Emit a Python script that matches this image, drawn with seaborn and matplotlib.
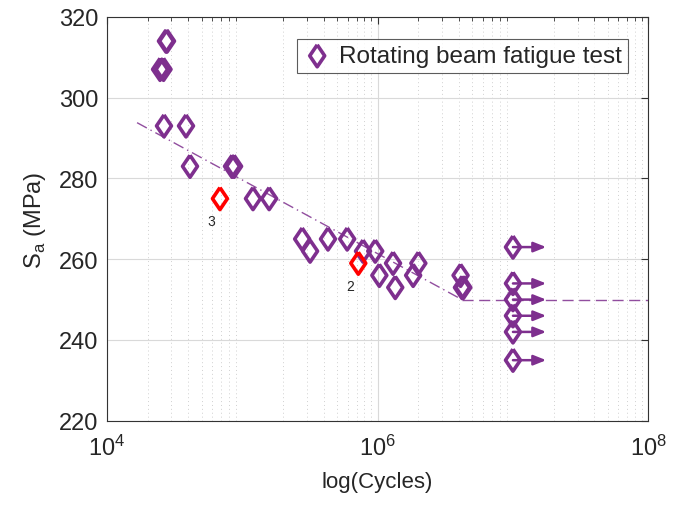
import numpy as np
import pandas as pd
import matplotlib
matplotlib.use("Agg")
import matplotlib.pyplot as plt
import seaborn as sns
from matplotlib.ticker import LogLocator, NullFormatter

# ---- data ----
cycles = [2.73e4, 2.78e4, 2.47e4, 2.62e4, 2.64e4, 3.84e4, 4.11e4, 8.4e4, 8.7e4,
          1.2e5, 1.58e5, 2.77e5, 3.17e5, 4.3e5, 5.96e5, 7.8e5, 9.6e5, 1.03e6,
          1.30e6, 1.35e6, 1.83e6, 2.0e6, 4.1e6, 4.2e6, 4.3e6]
stress = [314, 314, 307, 307, 293, 293, 283, 283, 283,
          275, 275, 265, 262, 265, 265, 262, 262, 256,
          259, 253, 256, 259, 256, 253, 253]
red_cycles = [6.84e4, 7.2e5]
red_stress = [275, 259]
red_labels = ["3", "2"]
runout_cycles = [1e7, 1e7, 1e7, 1e7, 1e7, 1e7]
runout_stress = [263, 254, 250, 246, 242, 235]
arrow_end = 1.76e7
fit_x = [1.67e4, 4.2e6]
fit_y = [293.8, 250]
endurance_x = [4.2e6, 1e8]
endurance_y = [250, 250]

purple = "#7E2F8E"
diamond = [(0, 1), (0.68, 0), (0, -1), (-0.68, 0), (0, 1)]

sns.set_style("white")
plt.rcParams['font.family'] = ['Liberation Sans', 'DejaVu Sans']

fig = plt.figure(figsize=(6.81, 5.10), dpi=100)
ax = fig.add_axes([0.157, 0.173, 0.795, 0.792])

df = pd.DataFrame({"Cycles": cycles + runout_cycles, "Sa": stress + runout_stress})
ax.plot(fit_x, fit_y, color=purple, lw=1, ls=(0, (8, 3, 1, 3)), alpha=0.85, zorder=2)
ax.plot(endurance_x, endurance_y, color=purple, lw=1, ls=(0, (8, 4)), alpha=0.85, zorder=2)

for xc, yc in zip(runout_cycles, runout_stress):
    ax.annotate("", xy=(arrow_end, yc), xytext=(xc, yc),
                arrowprops=dict(arrowstyle="-|>,head_length=0.75,head_width=0.3",
                                color=purple, lw=1.8, shrinkA=0, shrinkB=0),
                zorder=2.5)

sns.scatterplot(data=df, x="Cycles", y="Sa", marker=diamond, s=250, facecolors="none",
                edgecolor=purple, linewidth=2.6, ax=ax, zorder=3,
                label="Rotating beam fatigue test")
rdf = pd.DataFrame({"Cycles": red_cycles, "Sa": red_stress})
sns.scatterplot(data=rdf, x="Cycles", y="Sa", marker=diamond, s=250, facecolors="none",
                edgecolor="red", linewidth=2.6, ax=ax, zorder=4, legend=False)
for xc, yc, lab in zip(red_cycles, red_stress, red_labels):
    ax.annotate(lab, (xc, yc), xytext=(-6, -11), textcoords="offset points",
                fontsize=10, ha="center", va="top")

ax.set_xscale("log")
ax.set_xlim(1e4, 1e8)
ax.set_ylim(220, 320)
ax.set_yticks([220, 240, 260, 280, 300, 320])
ax.set_xticks([1e4, 1e6, 1e8])
ax.xaxis.set_minor_locator(LogLocator(base=10, subs=np.arange(2, 10), numticks=20))
ax.xaxis.set_minor_formatter(NullFormatter())
ax.grid(True, which="major", color="#d9d9d9", lw=0.8)
ax.grid(True, which="minor", axis="x", color="#d0d0d0", lw=0.7, ls=(0, (1, 3)))
ax.tick_params(which="both", direction="in", top=True, right=True, labelsize=17, color="#333333")
ax.tick_params(axis="x", which="major", pad=10)
ax.tick_params(axis="y", which="major", pad=6)
ax.tick_params(which="major", length=5)
ax.tick_params(which="minor", length=3)
for sp in ax.spines.values():
    sp.set_color("#333333")
    sp.set_linewidth(0.8)
ax.set_xlabel("log(Cycles)", fontsize=16, labelpad=8)
ax.set_ylabel("S$_\\mathregular{a}$ (MPa)", fontsize=17, labelpad=8)

leg = ax.legend(loc="upper right", fontsize=17.5, frameon=True, fancybox=False,
                edgecolor="#333333", handlelength=1.2, handletextpad=0.3, borderpad=0.25,
                bbox_to_anchor=(0.985, 0.975))
leg.get_frame().set_linewidth(0.8)

fig.savefig("out.png", dpi=100)
